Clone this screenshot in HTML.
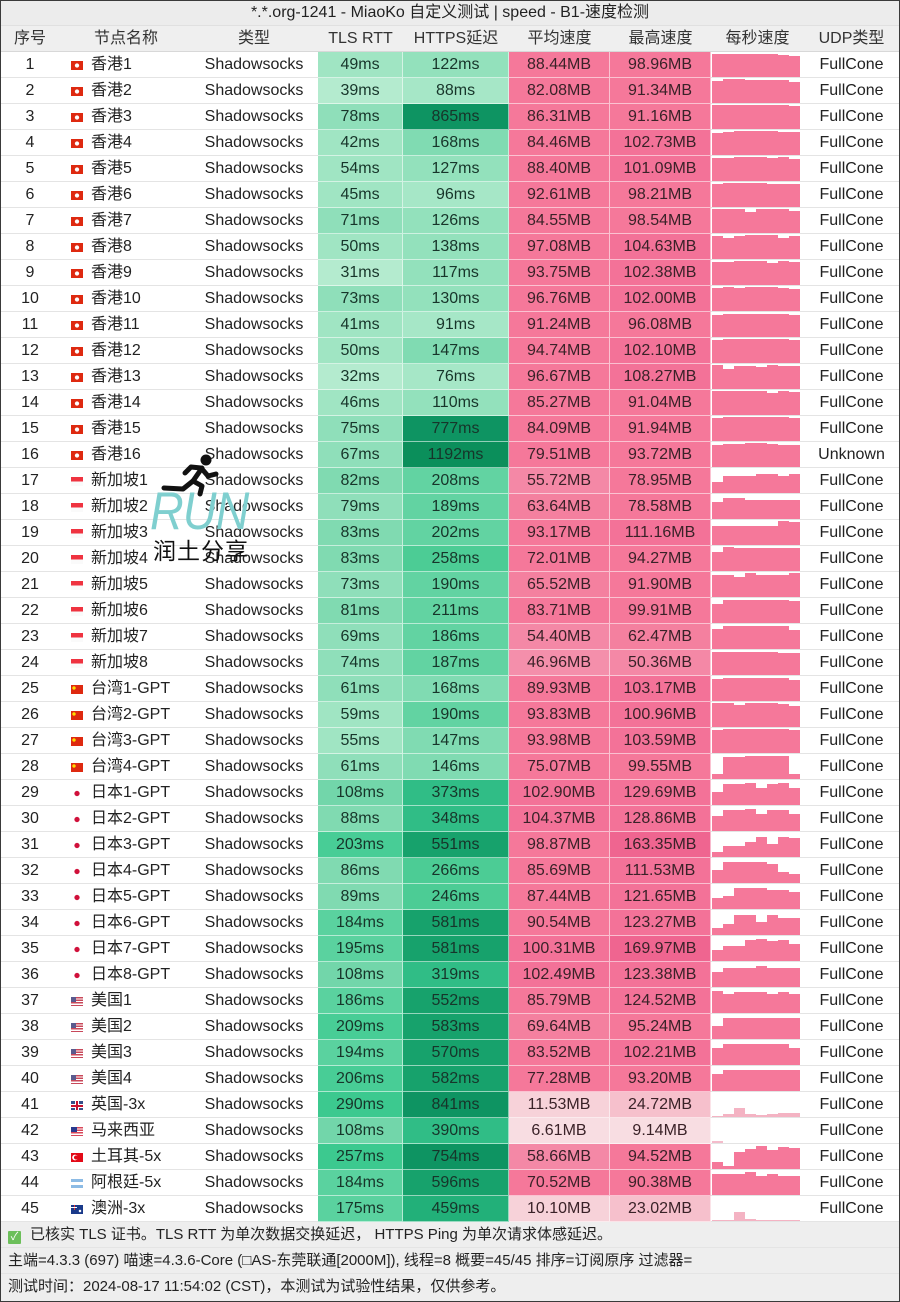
<!DOCTYPE html>
<html><head><meta charset="utf-8">
<style>
*{margin:0;padding:0}
body{width:900px;height:1302px;background:#fff;font-family:"Liberation Sans","Noto Sans CJK SC",sans-serif;color:#222;font-size:16px;overflow:hidden}
#w{position:relative;width:900px;height:1302px}
.tt{height:26px;line-height:26px;text-align:center;background:#ececec;border-bottom:1px solid #e0e0e0;box-sizing:border-box;color:#222}
.r{display:flex;height:26px}
.r>div{box-sizing:border-box;height:26px;line-height:25px;border-bottom:1px solid #e4e4e4;text-align:center;white-space:nowrap;overflow:hidden}
.hd{background:#efefef}
.hd>div{border-bottom:1px solid #d8d8d8!important;color:#333}
.c0{width:60px}.c1{width:130px;text-align:left!important;padding-left:11px}.c2{width:128px}.c3{width:85px}.c4{width:106px}.c5{width:101px}.c6{width:101px}.c7{width:92px;padding-left:1px}.c8{width:97px}
.r>.c3,.r>.c4,.r>.c5,.r>.c6{border-right:1px solid rgba(255,255,255,.55);border-bottom-color:rgba(255,255,255,.55)}
.hd>.c3,.hd>.c4,.hd>.c5,.hd>.c6{border-right:none}
.c5,.c6{color:#3a2228}
.c3,.c4{color:#17352a}
.c7 svg{display:block}
.t1{background:#b4ebcf}.t2{background:#a0e5c3}.t3{background:#8fdfba}.t4{background:#80dab1}.t5{background:#72d6aa}.t6{background:#5ad29f}.t7{background:#48cd96}.t8{background:#3cc98f}
.h1{background:#a6e7c7}.h2{background:#93e1bc}.h3{background:#80dbb2}.h4{background:#62d3a2}.h5{background:#4ccc95}.h6{background:#30bd86}.h7{background:#22b079}.h8{background:#17a26c}.h9{background:#0e9462}
.p1{background:#f8dde2}.p2{background:#f7d2d9}.p3{background:#f6c0cc}.p4{background:#f48fab}.p5{background:#f488a6}.p6{background:#f4809f}.p7{background:#f5789a}.p8{background:#f37298}.p9{background:#ef6590}
.f{display:inline-block;width:12px;height:9px;vertical-align:-1px;margin-right:8px}
.hk{background:radial-gradient(circle at 50% 50%,#fff 0 1.8px,#de2910 2.4px)}
.sg{background:linear-gradient(#ef3340 50%,#fafafa 50%)}
.cn{background:radial-gradient(circle at 3px 3px,#ffde00 0 1.4px,#de2910 2px)}
.jp{background:radial-gradient(circle at 50% 50%,#d0103a 0 2.3px,#fff 2.9px)}
.us{background:linear-gradient(#5a5a8e,#5a5a8e) 0 0/5px 5px no-repeat,repeating-linear-gradient(#c8485a 0 1.3px,#fff 1.3px 2.6px)}
.my{background:linear-gradient(#2a3a8e,#2a3a8e) 0 0/6px 5px no-repeat,repeating-linear-gradient(#d8475a 0 1.3px,#fff 1.3px 2.6px)}
.gb{background:linear-gradient(#c8102e,#c8102e) center/12px 2px no-repeat,linear-gradient(#c8102e,#c8102e) center/2px 9px no-repeat,linear-gradient(#fff,#fff) center/12px 4px no-repeat,linear-gradient(#fff,#fff) center/4px 9px no-repeat,#35508a}
.tr{background:radial-gradient(circle at 5px 4.5px,#e30a17 0 1.8px,transparent 2.2px),radial-gradient(circle at 4px 4.5px,#fff 0 2.6px,#e30a17 3px)}
.ar{background:linear-gradient(#8cbbe5 33%,#fff 33% 66%,#8cbbe5 66%)}
.au{background:radial-gradient(circle at 9px 6px,#fff 0 1px,transparent 1.5px),linear-gradient(#fff,#fff) 0 2px/6px 1px no-repeat,linear-gradient(#e33,#e33) 2.5px 0/1px 5px no-repeat,#1a3a8a}
.ft{background:#eeeeee;position:absolute;left:0;top:1222px;width:900px;height:80px;font-size:15px;color:#222}
.fl{height:26px;line-height:26px;padding-left:8px;border-bottom:1px solid #e4e4e4;box-sizing:border-box;white-space:nowrap}
.ck{display:inline-block;width:13px;height:13px;background:#6cbf5a;color:#fff;font-size:11px;line-height:13px;text-align:center;vertical-align:-1px;margin-right:9px;border-radius:1px}
#frame{position:absolute;left:0;top:0;width:900px;height:1302px;box-sizing:border-box;border:1.5px solid #3a3a3a;pointer-events:none}
</style></head><body><div id="w">
<div class="tt">*.*.org-1241 - MiaoKo 自定义测试 | speed - B1-速度检测</div>
<div class="r hd"><div class="c0">序号</div><div class="c1" style="padding-left:34px">节点名称</div><div class="c2">类型</div><div class="c3">TLS RTT</div><div class="c4">HTTPS延迟</div><div class="c5">平均速度</div><div class="c6">最高速度</div><div class="c7">每秒速度</div><div class="c8">UDP类型</div></div>

<div class="r"><div class="c0">1</div><div class="c1"><i class="f hk"></i>香港1</div><div class="c2">Shadowsocks</div><div class="c3 t2">49ms</div><div class="c4 h2">122ms</div><div class="c5 p7">88.44MB</div><div class="c6 p7">98.96MB</div><div class="c7"><svg width="88" height="25"><path d="M0 25V2H11V2H22V2H33V2H44V2H55V2H66V3H77V4H88V25Z" fill="#f5789a"/></svg></div><div class="c8">FullCone</div></div>
<div class="r"><div class="c0">2</div><div class="c1"><i class="f hk"></i>香港2</div><div class="c2">Shadowsocks</div><div class="c3 t1">39ms</div><div class="c4 h1">88ms</div><div class="c5 p7">82.08MB</div><div class="c6 p7">91.34MB</div><div class="c7"><svg width="88" height="25"><path d="M0 25V3H11V1H22V1H33V2H44V2H55V2H66V2H77V4H88V25Z" fill="#f5789a"/></svg></div><div class="c8">FullCone</div></div>
<div class="r"><div class="c0">3</div><div class="c1"><i class="f hk"></i>香港3</div><div class="c2">Shadowsocks</div><div class="c3 t3">78ms</div><div class="c4 h9">865ms</div><div class="c5 p7">86.31MB</div><div class="c6 p7">91.16MB</div><div class="c7"><svg width="88" height="25"><path d="M0 25V1H77V2H88V25Z" fill="#f5789a"/></svg></div><div class="c8">FullCone</div></div>
<div class="r"><div class="c0">4</div><div class="c1"><i class="f hk"></i>香港4</div><div class="c2">Shadowsocks</div><div class="c3 t2">42ms</div><div class="c4 h3">168ms</div><div class="c5 p7">84.46MB</div><div class="c6 p8">102.73MB</div><div class="c7"><svg width="88" height="25"><path d="M0 25V3H11V2H22V1H66V2H88V25Z" fill="#f5789a"/></svg></div><div class="c8">FullCone</div></div>
<div class="r"><div class="c0">5</div><div class="c1"><i class="f hk"></i>香港5</div><div class="c2">Shadowsocks</div><div class="c3 t2">54ms</div><div class="c4 h2">127ms</div><div class="c5 p7">88.40MB</div><div class="c6 p8">101.09MB</div><div class="c7"><svg width="88" height="25"><path d="M0 25V2H22V1H55V2H66V1H77V3H88V25Z" fill="#f5789a"/></svg></div><div class="c8">FullCone</div></div>
<div class="r"><div class="c0">6</div><div class="c1"><i class="f hk"></i>香港6</div><div class="c2">Shadowsocks</div><div class="c3 t2">45ms</div><div class="c4 h1">96ms</div><div class="c5 p7">92.61MB</div><div class="c6 p7">98.21MB</div><div class="c7"><svg width="88" height="25"><path d="M0 25V2H11V1H55V2H88V25Z" fill="#f5789a"/></svg></div><div class="c8">FullCone</div></div>
<div class="r"><div class="c0">7</div><div class="c1"><i class="f hk"></i>香港7</div><div class="c2">Shadowsocks</div><div class="c3 t3">71ms</div><div class="c4 h2">126ms</div><div class="c5 p7">84.55MB</div><div class="c6 p7">98.54MB</div><div class="c7"><svg width="88" height="25"><path d="M0 25V1H33V4H44V1H77V3H88V25Z" fill="#f5789a"/></svg></div><div class="c8">FullCone</div></div>
<div class="r"><div class="c0">8</div><div class="c1"><i class="f hk"></i>香港8</div><div class="c2">Shadowsocks</div><div class="c3 t2">50ms</div><div class="c4 h2">138ms</div><div class="c5 p7">97.08MB</div><div class="c6 p8">104.63MB</div><div class="c7"><svg width="88" height="25"><path d="M0 25V2H11V4H22V2H33V1H66V4H77V2H88V25Z" fill="#f5789a"/></svg></div><div class="c8">FullCone</div></div>
<div class="r"><div class="c0">9</div><div class="c1"><i class="f hk"></i>香港9</div><div class="c2">Shadowsocks</div><div class="c3 t1">31ms</div><div class="c4 h2">117ms</div><div class="c5 p7">93.75MB</div><div class="c6 p8">102.38MB</div><div class="c7"><svg width="88" height="25"><path d="M0 25V2H22V1H55V3H66V1H77V2H88V25Z" fill="#f5789a"/></svg></div><div class="c8">FullCone</div></div>
<div class="r"><div class="c0">10</div><div class="c1"><i class="f hk"></i>香港10</div><div class="c2">Shadowsocks</div><div class="c3 t3">73ms</div><div class="c4 h2">130ms</div><div class="c5 p7">96.76MB</div><div class="c6 p8">102.00MB</div><div class="c7"><svg width="88" height="25"><path d="M0 25V2H11V1H22V2H33V1H66V2H77V3H88V25Z" fill="#f5789a"/></svg></div><div class="c8">FullCone</div></div>
<div class="r"><div class="c0">11</div><div class="c1"><i class="f hk"></i>香港11</div><div class="c2">Shadowsocks</div><div class="c3 t2">41ms</div><div class="c4 h1">91ms</div><div class="c5 p7">91.24MB</div><div class="c6 p7">96.08MB</div><div class="c7"><svg width="88" height="25"><path d="M0 25V3H11V2H77V3H88V25Z" fill="#f5789a"/></svg></div><div class="c8">FullCone</div></div>
<div class="r"><div class="c0">12</div><div class="c1"><i class="f hk"></i>香港12</div><div class="c2">Shadowsocks</div><div class="c3 t2">50ms</div><div class="c4 h3">147ms</div><div class="c5 p7">94.74MB</div><div class="c6 p8">102.10MB</div><div class="c7"><svg width="88" height="25"><path d="M0 25V2H11V1H77V2H88V25Z" fill="#f5789a"/></svg></div><div class="c8">FullCone</div></div>
<div class="r"><div class="c0">13</div><div class="c1"><i class="f hk"></i>香港13</div><div class="c2">Shadowsocks</div><div class="c3 t1">32ms</div><div class="c4 h1">76ms</div><div class="c5 p7">96.67MB</div><div class="c6 p8">108.27MB</div><div class="c7"><svg width="88" height="25"><path d="M0 25V1H11V5H22V2H44V3H55V1H66V2H88V25Z" fill="#f5789a"/></svg></div><div class="c8">FullCone</div></div>
<div class="r"><div class="c0">14</div><div class="c1"><i class="f hk"></i>香港14</div><div class="c2">Shadowsocks</div><div class="c3 t2">46ms</div><div class="c4 h2">110ms</div><div class="c5 p7">85.27MB</div><div class="c6 p7">91.04MB</div><div class="c7"><svg width="88" height="25"><path d="M0 25V1H55V3H66V1H77V2H88V25Z" fill="#f5789a"/></svg></div><div class="c8">FullCone</div></div>
<div class="r"><div class="c0">15</div><div class="c1"><i class="f hk"></i>香港15</div><div class="c2">Shadowsocks</div><div class="c3 t3">75ms</div><div class="c4 h9">777ms</div><div class="c5 p7">84.09MB</div><div class="c6 p7">91.94MB</div><div class="c7"><svg width="88" height="25"><path d="M0 25V2H11V1H77V2H88V25Z" fill="#f5789a"/></svg></div><div class="c8">FullCone</div></div>
<div class="r"><div class="c0">16</div><div class="c1"><i class="f hk"></i>香港16</div><div class="c2">Shadowsocks</div><div class="c3 t3">67ms</div><div class="c4 h9" style="background:#0b8f5b">1192ms</div><div class="c5 p7">79.51MB</div><div class="c6 p7">93.72MB</div><div class="c7"><svg width="88" height="25"><path d="M0 25V3H11V2H33V1H55V2H66V3H88V25Z" fill="#f5789a"/></svg></div><div class="c8">Unknown</div></div>
<div class="r"><div class="c0">17</div><div class="c1"><i class="f sg"></i>新加坡1</div><div class="c2">Shadowsocks</div><div class="c3 t4">82ms</div><div class="c4 h4">208ms</div><div class="c5 p5">55.72MB</div><div class="c6 p7">78.95MB</div><div class="c7"><svg width="88" height="25"><path d="M0 25V14H11V8H44V6H66V8H77V6H88V25Z" fill="#f5789a"/></svg></div><div class="c8">FullCone</div></div>
<div class="r"><div class="c0">18</div><div class="c1"><i class="f sg"></i>新加坡2</div><div class="c2">Shadowsocks</div><div class="c3 t3">79ms</div><div class="c4 h4">189ms</div><div class="c5 p6">63.64MB</div><div class="c6 p7">78.58MB</div><div class="c7"><svg width="88" height="25"><path d="M0 25V8H11V4H33V6H88V25Z" fill="#f5789a"/></svg></div><div class="c8">FullCone</div></div>
<div class="r"><div class="c0">19</div><div class="c1"><i class="f sg"></i>新加坡3</div><div class="c2">Shadowsocks</div><div class="c3 t4">83ms</div><div class="c4 h4">202ms</div><div class="c5 p7">93.17MB</div><div class="c6 p8">111.16MB</div><div class="c7"><svg width="88" height="25"><path d="M0 25V6H66V1H77V2H88V25Z" fill="#f5789a"/></svg></div><div class="c8">FullCone</div></div>
<div class="r"><div class="c0">20</div><div class="c1"><i class="f sg"></i>新加坡4</div><div class="c2">Shadowsocks</div><div class="c3 t4">83ms</div><div class="c4 h5">258ms</div><div class="c5 p7">72.01MB</div><div class="c6 p7">94.27MB</div><div class="c7"><svg width="88" height="25"><path d="M0 25V6H11V1H22V2H88V25Z" fill="#f5789a"/></svg></div><div class="c8">FullCone</div></div>
<div class="r"><div class="c0">21</div><div class="c1"><i class="f sg"></i>新加坡5</div><div class="c2">Shadowsocks</div><div class="c3 t3">73ms</div><div class="c4 h4">190ms</div><div class="c5 p6">65.52MB</div><div class="c6 p7">91.90MB</div><div class="c7"><svg width="88" height="25"><path d="M0 25V3H22V5H33V1H44V3H77V1H88V25Z" fill="#f5789a"/></svg></div><div class="c8">FullCone</div></div>
<div class="r"><div class="c0">22</div><div class="c1"><i class="f sg"></i>新加坡6</div><div class="c2">Shadowsocks</div><div class="c3 t4">81ms</div><div class="c4 h4">211ms</div><div class="c5 p7">83.71MB</div><div class="c6 p7">99.91MB</div><div class="c7"><svg width="88" height="25"><path d="M0 25V6H11V2H77V3H88V25Z" fill="#f5789a"/></svg></div><div class="c8">FullCone</div></div>
<div class="r"><div class="c0">23</div><div class="c1"><i class="f sg"></i>新加坡7</div><div class="c2">Shadowsocks</div><div class="c3 t3">69ms</div><div class="c4 h4">186ms</div><div class="c5 p5">54.40MB</div><div class="c6 p6">62.47MB</div><div class="c7"><svg width="88" height="25"><path d="M0 25V5H11V2H77V6H88V25Z" fill="#f5789a"/></svg></div><div class="c8">FullCone</div></div>
<div class="r"><div class="c0">24</div><div class="c1"><i class="f sg"></i>新加坡8</div><div class="c2">Shadowsocks</div><div class="c3 t3">74ms</div><div class="c4 h4">187ms</div><div class="c5 p4">46.96MB</div><div class="c6 p5">50.36MB</div><div class="c7"><svg width="88" height="25"><path d="M0 25V2H66V3H88V25Z" fill="#f5789a"/></svg></div><div class="c8">FullCone</div></div>
<div class="r"><div class="c0">25</div><div class="c1"><i class="f cn"></i>台湾1-GPT</div><div class="c2">Shadowsocks</div><div class="c3 t3">61ms</div><div class="c4 h3">168ms</div><div class="c5 p7">89.93MB</div><div class="c6 p8">103.17MB</div><div class="c7"><svg width="88" height="25"><path d="M0 25V3H11V2H77V4H88V25Z" fill="#f5789a"/></svg></div><div class="c8">FullCone</div></div>
<div class="r"><div class="c0">26</div><div class="c1"><i class="f cn"></i>台湾2-GPT</div><div class="c2">Shadowsocks</div><div class="c3 t2">59ms</div><div class="c4 h4">190ms</div><div class="c5 p7">93.83MB</div><div class="c6 p8">100.96MB</div><div class="c7"><svg width="88" height="25"><path d="M0 25V1H22V3H33V1H66V2H77V4H88V25Z" fill="#f5789a"/></svg></div><div class="c8">FullCone</div></div>
<div class="r"><div class="c0">27</div><div class="c1"><i class="f cn"></i>台湾3-GPT</div><div class="c2">Shadowsocks</div><div class="c3 t2">55ms</div><div class="c4 h3">147ms</div><div class="c5 p7">93.98MB</div><div class="c6 p8">103.59MB</div><div class="c7"><svg width="88" height="25"><path d="M0 25V2H11V1H77V2H88V25Z" fill="#f5789a"/></svg></div><div class="c8">FullCone</div></div>
<div class="r"><div class="c0">28</div><div class="c1"><i class="f cn"></i>台湾4-GPT</div><div class="c2">Shadowsocks</div><div class="c3 t3">61ms</div><div class="c4 h3">146ms</div><div class="c5 p7">75.07MB</div><div class="c6 p7">99.55MB</div><div class="c7"><svg width="88" height="25"><path d="M0 25V20H11V3H33V2H77V20H88V25Z" fill="#f5789a"/></svg></div><div class="c8">FullCone</div></div>
<div class="r"><div class="c0">29</div><div class="c1"><i class="f jp"></i>日本1-GPT</div><div class="c2">Shadowsocks</div><div class="c3 t5">108ms</div><div class="c4 h6">373ms</div><div class="c5 p8">102.90MB</div><div class="c6 p8">129.69MB</div><div class="c7"><svg width="88" height="25"><path d="M0 25V12H11V4H33V3H44V8H55V4H66V3H77V8H88V25Z" fill="#f5789a"/></svg></div><div class="c8">FullCone</div></div>
<div class="r"><div class="c0">30</div><div class="c1"><i class="f jp"></i>日本2-GPT</div><div class="c2">Shadowsocks</div><div class="c3 t4">88ms</div><div class="c4 h6">348ms</div><div class="c5 p8">104.37MB</div><div class="c6 p8">128.86MB</div><div class="c7"><svg width="88" height="25"><path d="M0 25V10H11V4H33V3H44V8H55V4H77V8H88V25Z" fill="#f5789a"/></svg></div><div class="c8">FullCone</div></div>
<div class="r"><div class="c0">31</div><div class="c1"><i class="f jp"></i>日本3-GPT</div><div class="c2">Shadowsocks</div><div class="c3 t7">203ms</div><div class="c4 h8">551ms</div><div class="c5 p7">98.87MB</div><div class="c6 p9">163.35MB</div><div class="c7"><svg width="88" height="25"><path d="M0 25V20H11V14H33V10H44V5H55V12H66V5H77V6H88V25Z" fill="#f5789a"/></svg></div><div class="c8">FullCone</div></div>
<div class="r"><div class="c0">32</div><div class="c1"><i class="f jp"></i>日本4-GPT</div><div class="c2">Shadowsocks</div><div class="c3 t4">86ms</div><div class="c4 h5">266ms</div><div class="c5 p7">85.69MB</div><div class="c6 p8">111.53MB</div><div class="c7"><svg width="88" height="25"><path d="M0 25V12H11V4H55V6H66V14H77V16H88V25Z" fill="#f5789a"/></svg></div><div class="c8">FullCone</div></div>
<div class="r"><div class="c0">33</div><div class="c1"><i class="f jp"></i>日本5-GPT</div><div class="c2">Shadowsocks</div><div class="c3 t4">89ms</div><div class="c4 h5">246ms</div><div class="c5 p7">87.44MB</div><div class="c6 p8">121.65MB</div><div class="c7"><svg width="88" height="25"><path d="M0 25V14H11V12H22V4H55V6H77V8H88V25Z" fill="#f5789a"/></svg></div><div class="c8">FullCone</div></div>
<div class="r"><div class="c0">34</div><div class="c1"><i class="f jp"></i>日本6-GPT</div><div class="c2">Shadowsocks</div><div class="c3 t6">184ms</div><div class="c4 h8">581ms</div><div class="c5 p7">90.54MB</div><div class="c6 p8">123.27MB</div><div class="c7"><svg width="88" height="25"><path d="M0 25V18H11V14H22V5H44V12H55V5H66V8H88V25Z" fill="#f5789a"/></svg></div><div class="c8">FullCone</div></div>
<div class="r"><div class="c0">35</div><div class="c1"><i class="f jp"></i>日本7-GPT</div><div class="c2">Shadowsocks</div><div class="c3 t6">195ms</div><div class="c4 h8">581ms</div><div class="c5 p8">100.31MB</div><div class="c6 p9">169.97MB</div><div class="c7"><svg width="88" height="25"><path d="M0 25V14H11V10H33V4H44V3H55V5H66V4H77V8H88V25Z" fill="#f5789a"/></svg></div><div class="c8">FullCone</div></div>
<div class="r"><div class="c0">36</div><div class="c1"><i class="f jp"></i>日本8-GPT</div><div class="c2">Shadowsocks</div><div class="c3 t5">108ms</div><div class="c4 h6">319ms</div><div class="c5 p8">102.49MB</div><div class="c6 p8">123.38MB</div><div class="c7"><svg width="88" height="25"><path d="M0 25V10H11V6H44V4H55V6H88V25Z" fill="#f5789a"/></svg></div><div class="c8">FullCone</div></div>
<div class="r"><div class="c0">37</div><div class="c1"><i class="f us"></i>美国1</div><div class="c2">Shadowsocks</div><div class="c3 t6">186ms</div><div class="c4 h8">552ms</div><div class="c5 p7">85.79MB</div><div class="c6 p8">124.52MB</div><div class="c7"><svg width="88" height="25"><path d="M0 25V3H11V6H22V4H55V6H66V4H77V6H88V25Z" fill="#f5789a"/></svg></div><div class="c8">FullCone</div></div>
<div class="r"><div class="c0">38</div><div class="c1"><i class="f us"></i>美国2</div><div class="c2">Shadowsocks</div><div class="c3 t7">209ms</div><div class="c4 h8">583ms</div><div class="c5 p6">69.64MB</div><div class="c6 p7">95.24MB</div><div class="c7"><svg width="88" height="25"><path d="M0 25V12H11V4H88V25Z" fill="#f5789a"/></svg></div><div class="c8">FullCone</div></div>
<div class="r"><div class="c0">39</div><div class="c1"><i class="f us"></i>美国3</div><div class="c2">Shadowsocks</div><div class="c3 t6">194ms</div><div class="c4 h8">570ms</div><div class="c5 p7">83.52MB</div><div class="c6 p8">102.21MB</div><div class="c7"><svg width="88" height="25"><path d="M0 25V8H11V4H77V8H88V25Z" fill="#f5789a"/></svg></div><div class="c8">FullCone</div></div>
<div class="r"><div class="c0">40</div><div class="c1"><i class="f us"></i>美国4</div><div class="c2">Shadowsocks</div><div class="c3 t7">206ms</div><div class="c4 h8">582ms</div><div class="c5 p7">77.28MB</div><div class="c6 p7">93.20MB</div><div class="c7"><svg width="88" height="25"><path d="M0 25V8H11V4H88V25Z" fill="#f5789a"/></svg></div><div class="c8">FullCone</div></div>
<div class="r"><div class="c0">41</div><div class="c1"><i class="f gb"></i>英国-3x</div><div class="c2">Shadowsocks</div><div class="c3 t8">290ms</div><div class="c4 h9">841ms</div><div class="c5 p2">11.53MB</div><div class="c6 p3">24.72MB</div><div class="c7"><svg width="88" height="25"><path d="M0 25V24H11V22H22V16H33V22H44V23H55V22H66V21H88V25Z" fill="#f4b3c3"/></svg></div><div class="c8">FullCone</div></div>
<div class="r"><div class="c0">42</div><div class="c1"><i class="f my"></i>马来西亚</div><div class="c2">Shadowsocks</div><div class="c3 t5">108ms</div><div class="c4 h6">390ms</div><div class="c5 p1">6.61MB</div><div class="c6 p1">9.14MB</div><div class="c7"><svg width="88" height="25"><path d="M0 25V23H11V25Z" fill="#f4bccb"/></svg></div><div class="c8">FullCone</div></div>
<div class="r"><div class="c0">43</div><div class="c1"><i class="f tr"></i>土耳其-5x</div><div class="c2">Shadowsocks</div><div class="c3 t8">257ms</div><div class="c4 h9">754ms</div><div class="c5 p5">58.66MB</div><div class="c6 p7">94.52MB</div><div class="c7"><svg width="88" height="25"><path d="M0 25V18H11V22H22V8H33V5H44V2H55V6H66V3H77V4H88V25Z" fill="#f5789a"/></svg></div><div class="c8">FullCone</div></div>
<div class="r"><div class="c0">44</div><div class="c1"><i class="f ar"></i>阿根廷-5x</div><div class="c2">Shadowsocks</div><div class="c3 t6">184ms</div><div class="c4 h8">596ms</div><div class="c5 p7">70.52MB</div><div class="c6 p7">90.38MB</div><div class="c7"><svg width="88" height="25"><path d="M0 25V4H33V2H44V6H55V4H66V6H88V25Z" fill="#f5789a"/></svg></div><div class="c8">FullCone</div></div>
<div class="r"><div class="c0">45</div><div class="c1"><i class="f au"></i>澳洲-3x</div><div class="c2">Shadowsocks</div><div class="c3 t6">175ms</div><div class="c4 h7">459ms</div><div class="c5 p2">10.10MB</div><div class="c6 p3">23.02MB</div><div class="c7"><svg width="88" height="25"><path d="M0 25V24H22V16H33V23H44V24H88V25Z" fill="#f4b3c3"/></svg></div><div class="c8">FullCone</div></div>

<div class="ft">
<div class="fl"><span class="ck">✓</span>已核实 TLS 证书。TLS RTT 为单次数据交换延迟， HTTPS Ping 为单次请求体感延迟。</div>
<div class="fl">主端=4.3.3 (697) 喵速=4.3.6-Core (□AS-东莞联通[2000M]), 线程=8 概要=45/45 排序=订阅原序 过滤器=</div>
<div class="fl" style="border-bottom:none;height:28px">测试时间：2024-08-17 11:54:02 (CST)，本测试为试验性结果，仅供参考。</div>
</div>

<div style="position:absolute;left:158px;top:453px;width:64px;height:44px">
<svg width="64" height="44" viewBox="0 0 64 44">
<circle cx="48" cy="7" r="5.5" fill="#111"/>
<g stroke="#111" stroke-width="5" stroke-linecap="round" stroke-linejoin="round" fill="none">
<path d="M44 15 L35 28"/>
<path d="M43 15 L33 14 L27 20"/>
<path d="M44 16 L50 23 L58 21"/>
<path d="M35 28 L44 33 L42 41"/>
<path d="M35 28 L25 36 L6 35"/>
</g>
</svg>
</div>
<div style="position:absolute;left:150px;top:482px;font-size:53px;font-style:italic;color:#7fcfcf;line-height:60px;transform:scaleX(0.88);transform-origin:left top;letter-spacing:-1px">RUN</div>
<div style="position:absolute;left:153px;top:537px;font-size:23px;color:#111;line-height:28px;letter-spacing:1px">润土分享</div>

<div id="frame"></div>
</div></body></html>
